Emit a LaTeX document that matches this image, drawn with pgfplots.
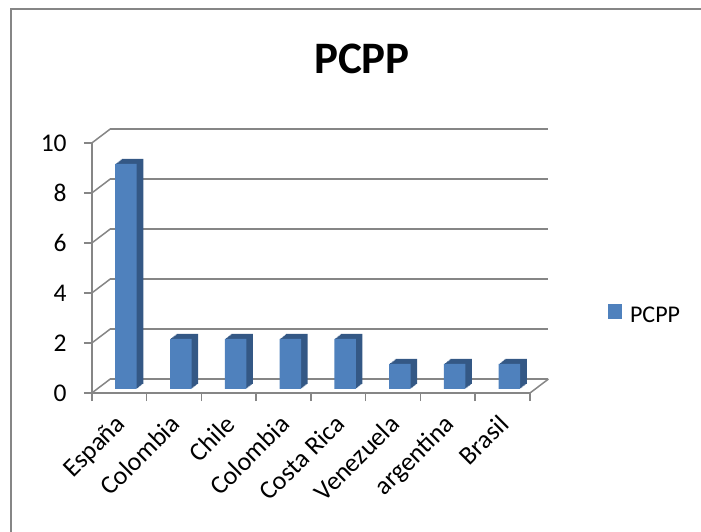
\documentclass[border=0pt]{standalone}
\usepackage{pgfplots}
\pgfplotsset{compat=1.18}
\usepackage{pgfplotstable}
\usepackage{fontspec}
\setmainfont{Carlito}
\definecolor{axgray}{RGB}{134,134,134}
\definecolor{barblue}{RGB}{79,129,189}
\definecolor{bardark}{RGB}{52,88,133}
\pgfplotstableread{
x y
0.5 9
1.5 2
2.5 2
3.5 2
4.5 2
5.5 1
6.5 1
7.5 1
}\datatable
\begin{document}
\begin{tikzpicture}
\path[use as bounding box] (0,0) rectangle (701bp,532bp);
\draw[axgray, line width=1.6bp] (11bp,0) -- (11bp,523bp) -- (701bp,523bp);
\begin{axis}[
  at={(91.8bp,139bp)}, anchor=south west, scale only axis,
  width=438.2bp, height=250bp,
  xmin=0, xmax=8, ymin=0, ymax=10,
  axis x line*=bottom, axis y line*=left,
  axis line style={draw=axgray, line width=1.5bp},
  tick align=outside, major tick length=8bp,
  tick style={draw=axgray, line width=1.5bp},
  xtick={0,...,8}, xticklabels={},
  extra x ticks={0.5,1.5,...,7.5},
  extra x tick labels={España,Colombia,Chile,Colombia,Costa Rica,Venezuela,argentina,Brasil},
  extra x tick style={major tick length=0pt},
  ytick={0,2,...,10},
  ymajorgrids, major grid style={draw=axgray, line width=1.5bp, xshift=18.5bp, yshift=14bp},
  yticklabel style={font=\fontsize{25.5bp}{30bp}\selectfont},
  /pgf/number format/assume math mode=true,
  xticklabel style={font=\fontsize{26bp}{30bp}\selectfont, xshift=-5bp, yshift=-20bp, rotate=45, anchor=north east, inner sep=0pt},
  yticklabel style={anchor=east, inner sep=0pt, xshift=-17bp},
  legend style={at={(1.177,0.316)}, anchor=west, draw=none, fill=none, inner sep=0pt,
    font=\fontsize{24bp}{28bp}\selectfont, nodes={inner sep=0pt}},
  clip=false,
]
\pgfplotsinvokeforeach{0,2,4,6,8,10}{
  \draw[axgray, line width=1.5bp] (axis cs:0,#1) -- ++(18.5bp,14bp);
}
\draw[axgray, line width=1.5bp] (axis cs:8,0) -- ++(18.5bp,14bp);
\pgfplotsinvokeforeach{6,5,4,3,2,1}{
  \addplot[ybar, bar width=21.5bp, bar shift=6.8bp, xshift={#1*1.1bp}, yshift={4bp+#1*0.85bp},
    fill=bardark, draw=none, forget plot] table[x=x,y=y]{\datatable};
}
\addplot[ybar, bar width=21.5bp, bar shift=6.8bp, yshift=4bp, fill=barblue, draw=none,
  legend image code/.code={\fill[barblue] (0bp,-7.3bp) rectangle (14.6bp,7.3bp); \path (22.3bp,0bp);}]
  table[x=x,y=y]{\datatable};
\addlegendentry{PCPP}
\end{axis}
\node[anchor=base, font=\fontsize{45bp}{52bp}\selectfont\bfseries] at (362bp,458.7bp) {PCPP};
\end{tikzpicture}
\end{document}
